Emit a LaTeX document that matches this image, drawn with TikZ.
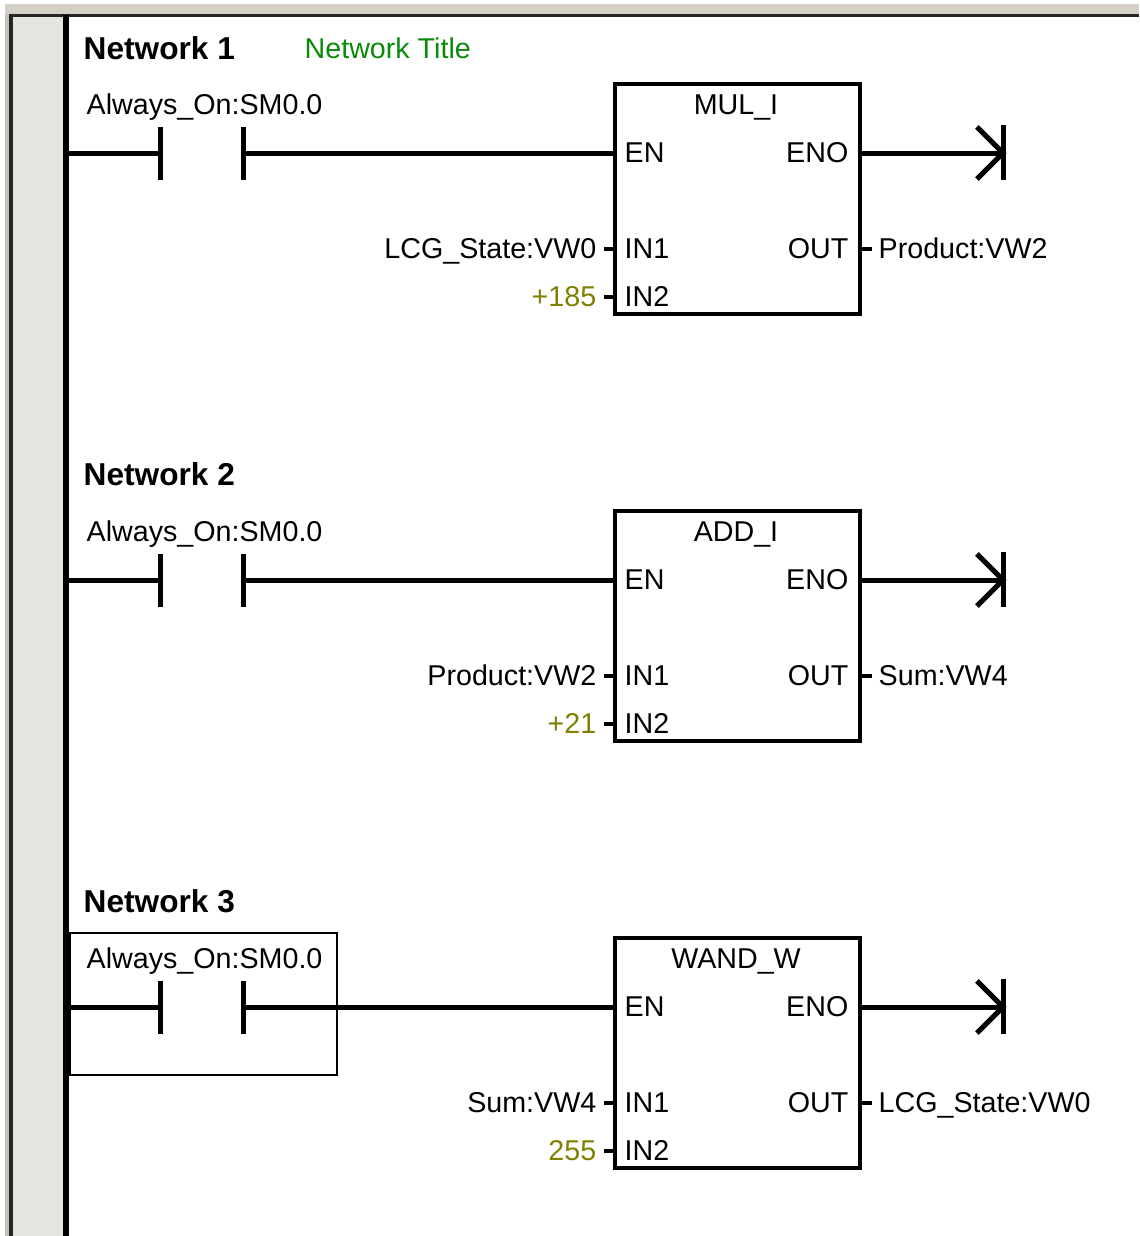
\documentclass[tikz,border=0pt]{standalone}
\usepackage{fontspec}
\setmainfont{Liberation Sans}
\definecolor{verde}{HTML}{0A8A0A}
\definecolor{oliva}{HTML}{808000}
\definecolor{cinza}{HTML}{D4D0C8}
\definecolor{calha}{HTML}{E6E5DF}

\begin{document}
\begin{tikzpicture}[
	x=0.01cm, y=-0.01cm,
	bloco/.style={draw, line width=0.04cm, anchor=north west, minimum width=2.45cm, minimum height=2.30cm, inner sep=0pt, outer sep=0pt},
	fio/.style={line width=0.05cm},
	pino/.style={line width=0.045cm},
	txt/.style={inner sep=0pt, xshift=-0.01cm, yshift=0.02cm, font=\fontsize{8.15pt}{10pt}\selectfont},
	esq/.style={txt, anchor=base west},
	dir/.style={txt, anchor=base east},
	meio/.style={txt, anchor=base},
	rede/.style={inner sep=0pt, anchor=base west, xshift=-0.01cm, yshift=0.01cm, font=\fontsize{9pt}{10pt}\selectfont\bfseries}
	]
	\useasboundingbox (0,0) rectangle (1139,1236);

	% janela
	\fill[cinza] (5,4) rectangle (1139,14);
	\fill[cinza!80!gray] (5,14) rectangle (10,1236);
	\fill[calha] (12,17) rectangle (64,1236);
	\draw[line width=0.03cm, black!85] (11,1236) -- (11,15) -- (1139,15);
	\coordinate (Rtop) at (66,15);
	\coordinate (Rbot) at (66,1236);
	\draw[fio] (Rtop) -- (Rbot);

	% network 1
	\node[rede] (N1) at (84,60) {Network 1};
	\node[esq, text=verde] (T1) at (305,60) {Network Title};
	\node[esq] (A1) at (87,116) {Always\_On:SM0.0};
	\node[bloco] (B1) at (615,84) {};
	\node[meio] (F1) at (737,116) {MUL\_I};
	\node[esq] (EN1) at (625,164) {EN};
	\node[dir] (ENO1) at (850,164) {ENO};
	\node[esq] (IA1) at (625,260) {IN1};
	\node[esq] (IB1) at (625,308) {IN2};
	\node[dir] (OUT1) at (850,260) {OUT};
	\node[dir] (VA1) at (598,260) {LCG\_State:VW0};
	\node[dir, text=oliva] (VB1) at (598,308) {+185};
	\node[esq] (VO1) at (879,260) {Product:VW2};
	\coordinate (R1) at (66,153);
	\coordinate (L1) at (160,153);
	\coordinate (M1) at (243,153);
	\coordinate (S1) at (1003,153);
	\coordinate (PA1) at (604,249);
	\coordinate (PB1) at (604,297);
	\coordinate (PO1) at (872,249);
	\draw[fio] (R1) -- (L1);
	\draw[fio] ([yshift=-0.27cm]L1) -- ([yshift=0.26cm]L1);
	\draw[fio] ([yshift=-0.27cm]M1) -- ([yshift=0.26cm]M1);
	\draw[fio] (M1) -- (M1 -| B1.west);
	\draw[fio] (S1 -| B1.east) -- (S1);
	\draw[fio] ([yshift=-0.27cm]S1) -- ([yshift=0.28cm]S1);
	\draw[fio] ([xshift=-0.26cm, yshift=-0.26cm]S1) -- (S1) -- ([xshift=-0.26cm, yshift=0.26cm]S1);
	\draw[pino] (PA1) -- (PA1 -| B1.west);
	\draw[pino] (PB1) -- (PB1 -| B1.west);
	\draw[pino] (PO1 -| B1.east) -- (PO1);

	% network 2
	\node[rede] (N2) at (84,486) {Network 2};
	\node[esq] (A2) at (87,543) {Always\_On:SM0.0};
	\node[bloco] (B2) at (615,511) {};
	\node[meio] (F2) at (737,543) {ADD\_I};
	\node[esq] (EN2) at (625,591) {EN};
	\node[dir] (ENO2) at (850,591) {ENO};
	\node[esq] (IA2) at (625,687) {IN1};
	\node[esq] (IB2) at (625,735) {IN2};
	\node[dir] (OUT2) at (850,687) {OUT};
	\node[dir] (VA2) at (598,687) {Product:VW2};
	\node[dir, text=oliva] (VB2) at (598,735) {+21};
	\node[esq] (VO2) at (879,687) {Sum:VW4};
	\coordinate (R2) at (66,580);
	\coordinate (L2) at (160,580);
	\coordinate (M2) at (243,580);
	\coordinate (S2) at (1003,580);
	\coordinate (PA2) at (604,676);
	\coordinate (PB2) at (604,724);
	\coordinate (PO2) at (872,676);
	\draw[fio] (R2) -- (L2);
	\draw[fio] ([yshift=-0.27cm]L2) -- ([yshift=0.26cm]L2);
	\draw[fio] ([yshift=-0.27cm]M2) -- ([yshift=0.26cm]M2);
	\draw[fio] (M2) -- (M2 -| B2.west);
	\draw[fio] (S2 -| B2.east) -- (S2);
	\draw[fio] ([yshift=-0.27cm]S2) -- ([yshift=0.28cm]S2);
	\draw[fio] ([xshift=-0.26cm, yshift=-0.26cm]S2) -- (S2) -- ([xshift=-0.26cm, yshift=0.26cm]S2);
	\draw[pino] (PA2) -- (PA2 -| B2.west);
	\draw[pino] (PB2) -- (PB2 -| B2.west);
	\draw[pino] (PO2 -| B2.east) -- (PO2);

	% network 3
	\node[rede] (N3) at (84,913) {Network 3};
	\node[draw, line width=0.02cm, anchor=north west, minimum width=2.67cm, minimum height=1.42cm, inner sep=0pt, outer sep=0pt] (SEL) at (70,933) {};
	\node[esq] (A3) at (87,970) {Always\_On:SM0.0};
	\node[bloco] (B3) at (615,938) {};
	\node[meio] (F3) at (737,970) {WAND\_W};
	\node[esq] (EN3) at (625,1018) {EN};
	\node[dir] (ENO3) at (850,1018) {ENO};
	\node[esq] (IA3) at (625,1114) {IN1};
	\node[esq] (IB3) at (625,1162) {IN2};
	\node[dir] (OUT3) at (850,1114) {OUT};
	\node[dir] (VA3) at (598,1114) {Sum:VW4};
	\node[dir, text=oliva] (VB3) at (598,1162) {255};
	\node[esq] (VO3) at (879,1114) {LCG\_State:VW0};
	\coordinate (R3) at (66,1007);
	\coordinate (L3) at (160,1007);
	\coordinate (M3) at (243,1007);
	\coordinate (S3) at (1003,1007);
	\coordinate (PA3) at (604,1103);
	\coordinate (PB3) at (604,1151);
	\coordinate (PO3) at (872,1103);
	\draw[fio] (R3) -- (L3);
	\draw[fio] ([yshift=-0.27cm]L3) -- ([yshift=0.26cm]L3);
	\draw[fio] ([yshift=-0.27cm]M3) -- ([yshift=0.26cm]M3);
	\draw[fio] (M3) -- (M3 -| B3.west);
	\draw[fio] (S3 -| B3.east) -- (S3);
	\draw[fio] ([yshift=-0.27cm]S3) -- ([yshift=0.28cm]S3);
	\draw[fio] ([xshift=-0.26cm, yshift=-0.26cm]S3) -- (S3) -- ([xshift=-0.26cm, yshift=0.26cm]S3);
	\draw[pino] (PA3) -- (PA3 -| B3.west);
	\draw[pino] (PB3) -- (PB3 -| B3.west);
	\draw[pino] (PO3 -| B3.east) -- (PO3);
\end{tikzpicture}
\end{document}
